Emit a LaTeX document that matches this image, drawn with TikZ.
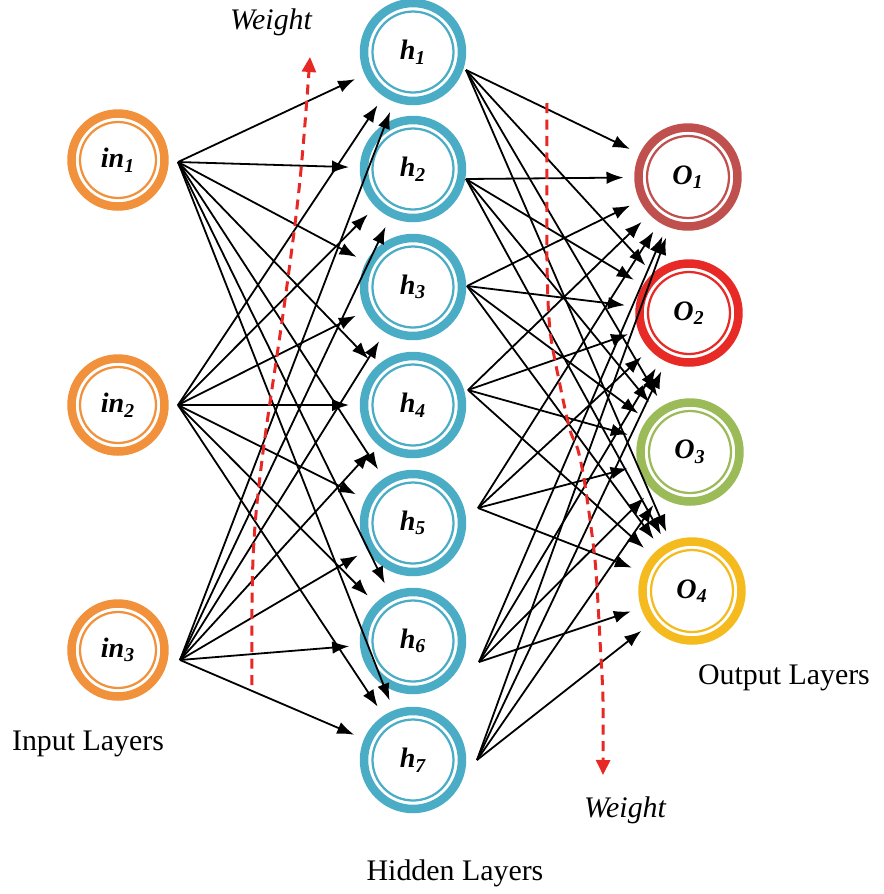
\documentclass[tikz,border=0pt]{standalone}
\usepackage{fontspec}
\setmainfont{Liberation Serif}
\usetikzlibrary{arrows.meta}
\definecolor{inC}{RGB}{241,145,59}
\definecolor{hC}{RGB}{75,172,198}
\definecolor{oaC}{RGB}{192,80,77}
\definecolor{obC}{RGB}{232,42,38}
\definecolor{ocC}{RGB}{155,187,89}
\definecolor{odC}{RGB}{245,186,30}
\definecolor{wC}{RGB}{232,40,36}
\tikzset{
  x=0.02cm, y=-0.02cm,
  neuron/.style 2 args={circle, draw=#1, line width=0.17cm, minimum size=#2, inner sep=0pt, outer sep=0pt,
    font=\fontsize{16}{18}\selectfont\bfseries\itshape,
    path picture={\draw[#1, line width=0.045cm] (path picture bounding box.center) circle ({#2/2-0.17cm});}},
  conn/.style={-{Latex[length=0.34cm,width=0.25cm]}, line width=0.036cm, black, shorten >=0.3cm},
  wline/.style={wC, line width=0.06cm, dash pattern=on 0.2cm off 0.13cm, -{Triangle[length=0.3cm,width=0.28cm]}},
  lbl/.style={font=\fontsize{17}{19}\selectfont, inner sep=0pt},
  wlbl/.style={font=\fontsize{17}{19}\selectfont\itshape, inner sep=0pt}
}
\begin{document}
\begin{tikzpicture}
\useasboundingbox (0,0) rectangle (884,894);
% input nodes
\node[neuron={inC}{1.86cm}] (in1) at (118,160) {in\textsubscript{1}};
\node[neuron={inC}{1.86cm}] (in2) at (118,405) {in\textsubscript{2}};
\node[neuron={inC}{1.86cm}] (in3) at (118,650) {in\textsubscript{3}};
% hidden nodes
\node[neuron={hC}{1.96cm}] (h1) at (413,52) {h\textsubscript{1}};
\node[neuron={hC}{1.96cm}] (h2) at (413,169) {h\textsubscript{2}};
\node[neuron={hC}{1.96cm}] (h3) at (413,287) {h\textsubscript{3}};
\node[neuron={hC}{1.96cm}] (h4) at (413,405) {h\textsubscript{4}};
\node[neuron={hC}{1.96cm}] (h5) at (413,523) {h\textsubscript{5}};
\node[neuron={hC}{1.96cm}] (h6) at (413,641) {h\textsubscript{6}};
\node[neuron={hC}{1.96cm}] (h7) at (413,760) {h\textsubscript{7}};
% output nodes
\node[neuron={oaC}{1.98cm}] (o1) at (688,177) {O\textsubscript{1}};
\node[neuron={obC}{1.98cm}] (o2) at (689,313) {O\textsubscript{2}};
\node[neuron={ocC}{1.98cm}] (o3) at (690,452) {O\textsubscript{3}};
\node[neuron={odC}{1.98cm}] (o4) at (692,591) {O\textsubscript{4}};
% start points
\coordinate (a1) at (178,162);
\coordinate (a2) at (178,405);
\coordinate (a3) at (180,660);
\coordinate (b1) at (466,70);
\coordinate (b2) at (466,179);
\coordinate (b3) at (467,286);
\coordinate (b4) at (468,390);
\coordinate (b5) at (478,508);
\coordinate (b6) at (479,662);
\coordinate (b7) at (477,760);
% connections input -> hidden
\foreach \i in {1,2,3}{
  \foreach \j in {1,...,7}{
    \draw[conn] (a\i) -- (h\j);
  }
}
% connections hidden -> output
\foreach \i in {1,...,7}{
  \foreach \j in {1,...,4}{
    \draw[conn] (b\i) -- (o\j);
  }
}
% weight arrows
\coordinate (wa) at (252,685);
\coordinate (wb) at (310,57);
\draw[wline] plot[smooth, tension=0.6] coordinates {(wa) (253,560) (262,460) (285,300) (300,180) (wb)};
\coordinate (wc) at (547,103);
\coordinate (wd) at (603,775);
\draw[wline] plot[smooth, tension=0.5] coordinates {(wc) (547,260) (550,330) (560,385) (570,430) (578,450) (585,485) (595,560) (600,640) (603,700) (wd)};
% labels
\node[wlbl] (wt) at (271,22) {Weight};
\node[wlbl] (wbot) at (625,810) {Weight};
\node[lbl] (il) at (88,744) {Input Layers};
\node[lbl] (hl) at (455,873) {Hidden Layers};
\node[lbl] (ol) at (784,678) {Output Layers};
\end{tikzpicture}
\end{document}
